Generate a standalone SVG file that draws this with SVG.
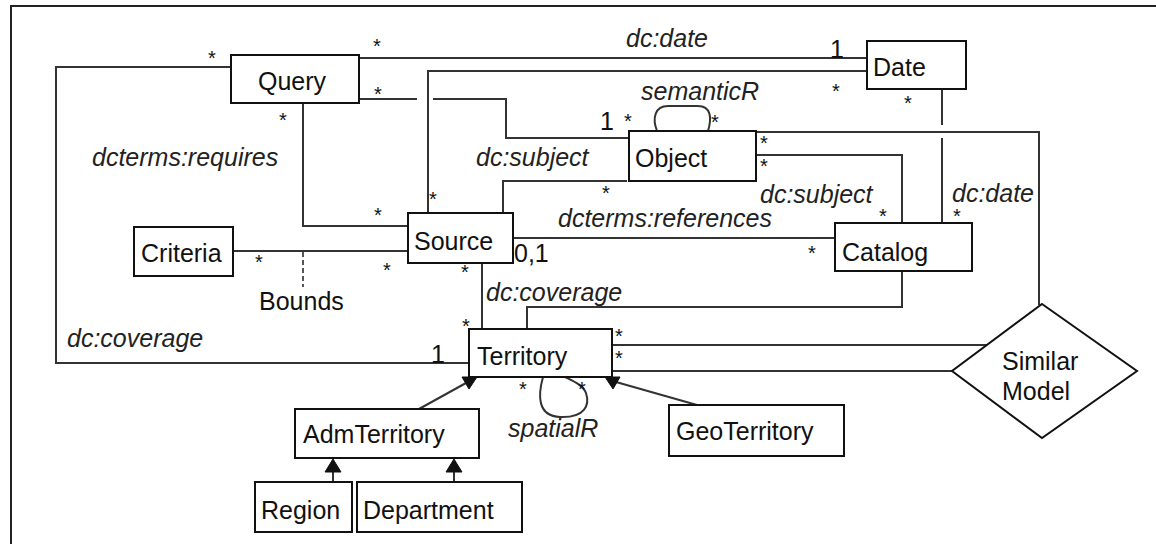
<svg xmlns="http://www.w3.org/2000/svg" width="1156" height="544" viewBox="0 0 1156 544">
<style>
  .box{fill:#fff;stroke:#111;stroke-width:2}
  .t{font-family:"Liberation Sans",Arial,sans-serif;font-size:25px;fill:#111}
  .i{font-family:"Liberation Sans",Arial,sans-serif;font-size:25px;font-style:italic;fill:#222}
  .m{font-family:"Liberation Sans",Arial,sans-serif;font-size:20px;fill:#111;text-anchor:middle}
  .c{fill:none;stroke:#333;stroke-width:2}
  .d{fill:none;stroke:#555;stroke-width:2;stroke-dasharray:5,3}
  .ah{fill:#111;stroke:#111;stroke-width:1}
</style>
<rect x="0" y="0" width="1156" height="544" fill="#fff"/>
<path d="M11,548 L11,6 L1156,6" fill="none" stroke="#222" stroke-width="2"/>

<g id="connectors">
  <path class="c" d="M359,58 L867,58"/>
  <path class="c" d="M428,213 L428,71 L867,71"/>
  <path class="c" d="M359,99 L417,99 M433,99 L506,99 L506,138 L629,138"/>
  <path class="c" d="M303,103 L303,226 L408,226"/>
  <path class="c" d="M231,67 L56,67 L56,363 L469,363"/>
  <path class="c" d="M503,213 L503,181 L627,181"/>
  <path class="c" d="M233,251 L408,251"/>
  <path class="d" d="M303,252 L303,287"/>
  <path class="c" d="M513,238 L835,238"/>
  <path class="c" d="M482,263 L482,329"/>
  <path class="c" d="M756,155 L902,155 L902,223"/>
  <path class="c" d="M756,132 L1039,132 L1039,305"/>
  <path class="c" d="M942,89 L942,125 M942,138 L942,223"/>
  <path class="c" d="M902,271 L902,307 L527,307 L527,329"/>
  <path class="c" d="M612,345 L987,345"/>
  <path class="c" d="M612,371 L952,371"/>
  <path class="c" d="M657,131 C652,118 655,106 668,106 L698,106 C711,106 712,118 708,131"/>
  <path class="c" d="M543,377 C538,395 537,416 560,417 C585,418 590,405 586,393 C583,385 573,381 565,377"/>
  <path class="c" d="M419,409 L466,383"/>
  <polygon class="ah" points="462,377 477,377 469,389"/>
  <path class="c" d="M697,405 L616,382"/>
  <polygon class="ah" points="605,377 620,377 613,389"/>
  <path class="c" d="M333,482 L333,470"/>
  <polygon class="ah" points="333,459 325,472 341,472"/>
  <path class="c" d="M454,482 L454,470"/>
  <polygon class="ah" points="454,459 446,472 462,472"/>
</g>

<g id="query"><rect class="box" x="231" y="55" width="128" height="48"/><text class="t" x="258" y="90">Query</text></g>
<g id="date"><rect class="box" x="867" y="41" width="99" height="48"/><text class="t" x="873" y="76">Date</text></g>
<g id="object"><rect class="box" x="629" y="131" width="127" height="50"/><text class="t" x="635" y="167">Object</text></g>
<g id="source"><rect class="box" x="408" y="213" width="105" height="50"/><text class="t" x="414" y="250">Source</text></g>
<g id="criteria"><rect class="box" x="134" y="227" width="99" height="49"/><text class="t" x="141" y="262">Criteria</text></g>
<g id="catalog"><rect class="box" x="835" y="223" width="137" height="48"/><text class="t" x="842" y="261">Catalog</text></g>
<g id="territory"><rect class="box" x="469" y="329" width="143" height="48"/><text class="t" x="477" y="365">Territory</text></g>
<g id="admterritory"><rect class="box" x="295" y="409" width="184" height="49"/><text class="t" x="303" y="443">AdmTerritory</text></g>
<g id="geoterritory"><rect class="box" x="669" y="405" width="175" height="51"/><text class="t" x="676" y="440">GeoTerritory</text></g>
<g id="region"><rect class="box" x="255" y="482" width="97" height="50"/><text class="t" x="261" y="519">Region</text></g>
<g id="department"><rect class="box" x="357" y="482" width="165" height="50"/><text class="t" x="363" y="519">Department</text></g>
<g id="similarmodel"><polygon class="box" points="1042,304 1137,371 1042,438 952,371"/><text class="t" x="1002" y="370">Similar</text><text class="t" x="1002" y="400">Model</text></g>

<g id="labels">
  <text class="i" x="626" y="47">dc:date</text>
  <text class="i" x="641" y="100">semanticR</text>
  <text class="i" x="92" y="166">dcterms:requires</text>
  <text class="i" x="476" y="166">dc:subject</text>
  <text class="i" x="760" y="203">dc:subject</text>
  <text class="i" x="952" y="202">dc:date</text>
  <text class="i" x="558" y="227">dcterms:references</text>
  <text class="i" x="486" y="301">dc:coverage</text>
  <text class="i" x="67" y="347">dc:coverage</text>
  <text class="i" x="508" y="437">spatialR</text>
  <text class="t" x="259" y="310">Bounds</text>
  <text class="t" x="514" y="262">0,1</text>
  <text class="t" x="431" y="363">1</text>
  <text class="t" x="830" y="58">1</text>
  <text class="t" x="600" y="130">1</text>
</g>

<g id="multiplicities">
  <text class="m" x="212" y="65">*</text>
  <text class="m" x="377" y="53">*</text>
  <text class="m" x="378" y="101">*</text>
  <text class="m" x="283" y="127">*</text>
  <text class="m" x="836" y="98">*</text>
  <text class="m" x="908" y="110">*</text>
  <text class="m" x="628" y="128">*</text>
  <text class="m" x="715" y="129">*</text>
  <text class="m" x="764" y="150">*</text>
  <text class="m" x="764" y="173">*</text>
  <text class="m" x="606" y="200">*</text>
  <text class="m" x="433" y="206">*</text>
  <text class="m" x="378" y="222">*</text>
  <text class="m" x="259" y="269">*</text>
  <text class="m" x="387" y="277">*</text>
  <text class="m" x="465" y="279">*</text>
  <text class="m" x="466" y="333">*</text>
  <text class="m" x="883" y="223">*</text>
  <text class="m" x="957" y="223">*</text>
  <text class="m" x="812" y="260">*</text>
  <text class="m" x="619" y="343">*</text>
  <text class="m" x="619" y="365">*</text>
  <text class="m" x="523" y="396">*</text>
  <text class="m" x="582" y="396">*</text>
</g>
</svg>
